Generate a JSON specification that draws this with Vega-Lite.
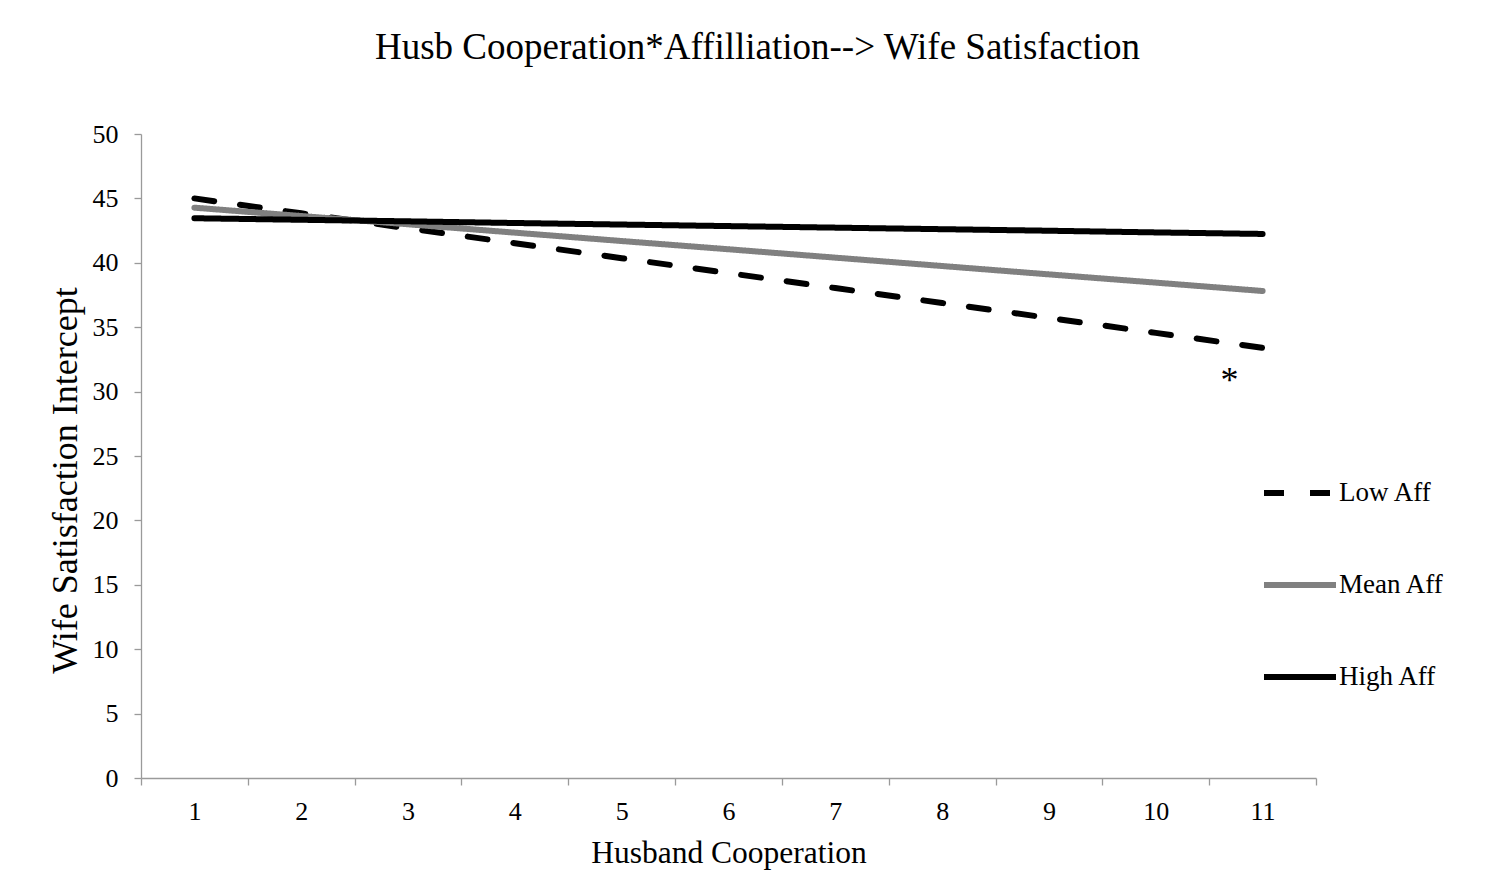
{
  "$schema": "https://vega.github.io/schema/vega-lite/v6.json",
  "width": 1175,
  "height": 644,
  "autosize": {"type": "none"},
  "padding": {"left": 141, "top": 134, "right": 177, "bottom": 100},
  "background": "white",
  "config": {
    "font": "Liberation Serif",
    "view": {"stroke": null},
    "axis": {"grid": false, "domainColor": "#9a9a9a", "tickColor": "#9a9a9a", "domainWidth": 1.3, "tickWidth": 1.3, "labelColor": "black", "titleColor": "black", "labelFont": "Liberation Serif", "titleFont": "Liberation Serif", "titleFontWeight": "normal", "labelFontSize": 26}
  },
  "title": {
    "text": "Husb Cooperation*Affilliation--> Wife Satisfaction",
    "font": "Liberation Serif",
    "fontSize": 37,
    "fontWeight": "normal",
    "color": "black",
    "frame": "group",
    "anchor": "middle",
    "dx": 29,
    "offset": 54
  },
  "datasets": {
    "lines": [
      {"x": 1, "y": 45.0, "series": "Low Aff"},
      {"x": 2, "y": 43.84, "series": "Low Aff"},
      {"x": 3, "y": 42.68, "series": "Low Aff"},
      {"x": 4, "y": 41.52, "series": "Low Aff"},
      {"x": 5, "y": 40.36, "series": "Low Aff"},
      {"x": 6, "y": 39.2, "series": "Low Aff"},
      {"x": 7, "y": 38.04, "series": "Low Aff"},
      {"x": 8, "y": 36.88, "series": "Low Aff"},
      {"x": 9, "y": 35.72, "series": "Low Aff"},
      {"x": 10, "y": 34.56, "series": "Low Aff"},
      {"x": 11, "y": 33.4, "series": "Low Aff"},
      {"x": 1, "y": 44.28, "series": "Mean Aff"},
      {"x": 2, "y": 43.63, "series": "Mean Aff"},
      {"x": 3, "y": 42.99, "series": "Mean Aff"},
      {"x": 4, "y": 42.34, "series": "Mean Aff"},
      {"x": 5, "y": 41.69, "series": "Mean Aff"},
      {"x": 6, "y": 41.05, "series": "Mean Aff"},
      {"x": 7, "y": 40.4, "series": "Mean Aff"},
      {"x": 8, "y": 39.75, "series": "Mean Aff"},
      {"x": 9, "y": 39.1, "series": "Mean Aff"},
      {"x": 10, "y": 38.46, "series": "Mean Aff"},
      {"x": 11, "y": 37.81, "series": "Mean Aff"},
      {"x": 1, "y": 43.46, "series": "High Aff"},
      {"x": 2, "y": 43.34, "series": "High Aff"},
      {"x": 3, "y": 43.22, "series": "High Aff"},
      {"x": 4, "y": 43.09, "series": "High Aff"},
      {"x": 5, "y": 42.97, "series": "High Aff"},
      {"x": 6, "y": 42.85, "series": "High Aff"},
      {"x": 7, "y": 42.73, "series": "High Aff"},
      {"x": 8, "y": 42.61, "series": "High Aff"},
      {"x": 9, "y": 42.49, "series": "High Aff"},
      {"x": 10, "y": 42.36, "series": "High Aff"},
      {"x": 11, "y": 42.24, "series": "High Aff"}
    ],
    "note": [
      {"x": 10.69, "y": 30.0, "label": "*"}
    ]
  },
  "layer": [
    {
      "data": {"name": "lines"},
      "mark": {"type": "line", "strokeWidth": 6, "strokeCap": "round", "strokeJoin": "round"},
      "encoding": {
        "x": {
          "field": "x", "type": "quantitative",
          "scale": {"domain": [0.5, 11.5], "nice": false, "zero": false},
          "axis": {"orient": "bottom", "values": [1, 2, 3, 4, 5, 6, 7, 8, 9, 10, 11], "ticks": false, "domain": true, "labelPadding": 20, "title": "Husband Cooperation", "titleFontSize": 31.5, "titlePadding": 13, "labelFlush": false, "labelOverlap": false}
        },
        "y": {
          "field": "y", "type": "quantitative",
          "scale": {"domain": [0, 50], "nice": false},
          "axis": {"values": [0, 5, 10, 15, 20, 25, 30, 35, 40, 45, 50], "tickSize": 7, "labelPadding": 16, "title": "Wife Satisfaction Intercept", "titleFontSize": 36, "titlePadding": 8, "titleY": 346, "labelFlush": false, "labelOverlap": false}
        },
        "color": {
          "field": "series", "type": "nominal",
          "scale": {"domain": ["Low Aff", "Mean Aff", "High Aff"], "range": ["#000000", "#808080", "#000000"]},
          "legend": {"orient": "none", "legendX": 1120, "legendY": 320, "title": null, "symbolType": "stroke", "symbolSize": 5184, "symbolStrokeWidth": 6, "labelFontSize": 27, "labelFont": "Liberation Serif", "labelColor": "black", "labelOffset": 0, "rowPadding": 40}
        },
        "strokeDash": {
          "field": "series", "type": "nominal",
          "scale": {"domain": ["Low Aff", "Mean Aff", "High Aff"], "range": [[20, 26], [1, 0], [1, 0]]},
          "legend": {"orient": "none", "legendX": 1120, "legendY": 320, "title": null, "symbolType": "stroke", "symbolSize": 5184, "symbolStrokeWidth": 6, "labelFontSize": 27, "labelFont": "Liberation Serif", "labelColor": "black", "labelOffset": 0, "rowPadding": 40}
        }
      }
    },
    {
      "data": {"name": "note"},
      "mark": {"type": "text", "fontSize": 36, "font": "Liberation Serif", "color": "black", "baseline": "alphabetic", "align": "center"},
      "encoding": {
        "x": {
          "field": "x", "type": "quantitative",
          "axis": {"orient": "bottom", "values": [0.5, 1.5, 2.5, 3.5, 4.5, 5.5, 6.5, 7.5, 8.5, 9.5, 10.5, 11.5], "labels": false, "domain": false, "ticks": true, "tickSize": 7, "title": null}
        },
        "y": {"field": "y", "type": "quantitative"},
        "text": {"field": "label"}
      }
    }
  ],
  "resolve": {"axis": {"x": "independent"}}
}
